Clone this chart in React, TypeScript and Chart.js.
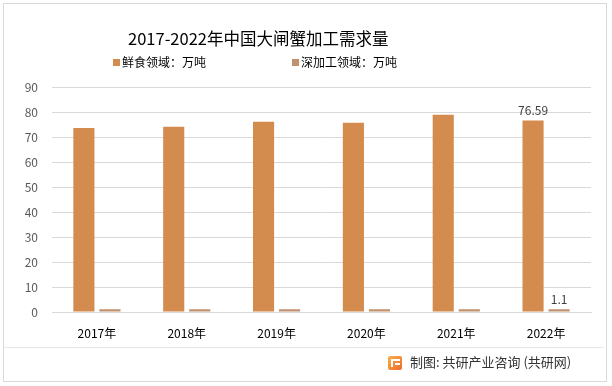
import React, { useEffect, useRef } from "react";
import { Chart, registerables } from "chart.js";

Chart.register(...registerables);

const categories = ["2017年", "2018年", "2019年", "2020年", "2021年", "2022年"];
const seriesNames = ["鲜食领域：万吨", "深加工领域：万吨"];
const freshValues = [73.6, 74.1, 76.1, 75.7, 78.9, 76.59];
const processValues = [1.1, 1.1, 1.1, 1.1, 1.1, 1.1];
const labelledIndex = 5;
const labelTexts = ["76.59", "1.1"];
const yTicks = [0, 10, 20, 30, 40, 50, 60, 70, 80, 90];
const colors = ["#D38B4E", "#C0906F"];
const FONT = "'Noto Sans CJK SC', 'Noto Sans', sans-serif";

const valueLabelPlugin = {
  id: "valueLabels",
  afterDatasetsDraw(chart: any) {
    const ctx = chart.ctx;
    ctx.save();
    ctx.font = `12px ${FONT}`;
    ctx.fillStyle = "#404040";
    ctx.textAlign = "center";
    ctx.textBaseline = "bottom";
    chart.data.datasets.forEach((_ds: any, di: number) => {
      const meta = chart.getDatasetMeta(di);
      const el = meta.data[labelledIndex];
      if (el) ctx.fillText(labelTexts[di], el.x, el.y - 4);
    });
    ctx.restore();
  },
};

export default function App() {
  const ref = useRef<HTMLCanvasElement>(null);
  useEffect(() => {
    if (!ref.current) return;
    const chart = new Chart(ref.current, {
      type: "bar",
      data: {
        labels: categories,
        datasets: [
          { label: seriesNames[0], data: freshValues, backgroundColor: colors[0], categoryPercentage: 0.58, barPercentage: 0.81 },
          { label: seriesNames[1], data: processValues, backgroundColor: colors[1], categoryPercentage: 0.58, barPercentage: 0.81 },
        ],
      },
      options: {
        responsive: false,
        animation: false,
        layout: { padding: { top: 87, right: 21, bottom: 0, left: 0 } },
        plugins: { legend: { display: false }, title: { display: false }, tooltip: { enabled: false } },
        scales: {
          x: {
            grid: { display: false, drawTicks: false },
            border: { display: true, color: "#d9d9d9" },
            ticks: { color: "#000", font: { family: FONT, size: 12 }, padding: 14 },
            afterFit: (s: any) => { s.height = 386 - 312; },
          },
          y: {
            min: 0,
            max: 90,
            afterBuildTicks: (s: any) => { s.ticks = yTicks.map((v) => ({ value: v })); },
            grid: { color: "#d9d9d9", drawTicks: false },
            border: { display: false },
            ticks: { color: "#595959", font: { family: FONT, size: 12 }, padding: 14 },
            afterFit: (s: any) => { s.width = 52; },
          },
        },
      },
      plugins: [valueLabelPlugin],
    });
    return () => chart.destroy();
  }, []);

  const legendItem = (i: number, left: number) => (
    <div style={{ position: "absolute", left, top: 53, display: "flex", alignItems: "center", fontSize: 12, color: "#000", lineHeight: "18px" }}>
      <span style={{ width: 7, height: 7, background: colors[i], display: "inline-block", marginRight: 2 }} />
      <span>{seriesNames[i]}</span>
    </div>
  );

  return (
    <div style={{ position: "absolute", left: 0, top: 0, width: 612, height: 386, background: "#fff", fontFamily: FONT, overflow: "hidden" }}>
      <div style={{ position: "absolute", left: 3, top: 3, width: 602, height: 377, border: "1px solid #d9d9d9" }} />
      <canvas ref={ref} width={612} height={386} style={{ position: "absolute", left: 0, top: 0 }} />
      <div style={{ position: "absolute", left: 128, top: 26, fontSize: 16.5, color: "#000", whiteSpace: "nowrap", lineHeight: "24px" }}>
        2017-2022年中国大闸蟹加工需求量
      </div>
      {legendItem(0, 113)}
      {legendItem(1, 292)}
      <div style={{ position: "absolute", left: 4, top: 347, width: 600, height: 1, background: "#e6e6e6" }} />
      <div style={{ position: "absolute", left: 388, top: 356, width: 14, height: 14, borderRadius: 2, background: "linear-gradient(135deg, #f7b24a, #ee6a2c)" }}>
        <div style={{ position: "absolute", left: 3, top: 3, width: 9, height: 2, background: "#fff" }} />
        <div style={{ position: "absolute", left: 3, top: 3, width: 2, height: 8, background: "#fff" }} />
        <div style={{ position: "absolute", left: 7, top: 7, width: 5, height: 2, background: "#fff" }} />
      </div>
      <div style={{ position: "absolute", left: 410, top: 353, fontSize: 13, color: "#333", whiteSpace: "nowrap", lineHeight: "18px" }}>
        制图: 共研产业咨询 (共研网)
      </div>
    </div>
  );
}
